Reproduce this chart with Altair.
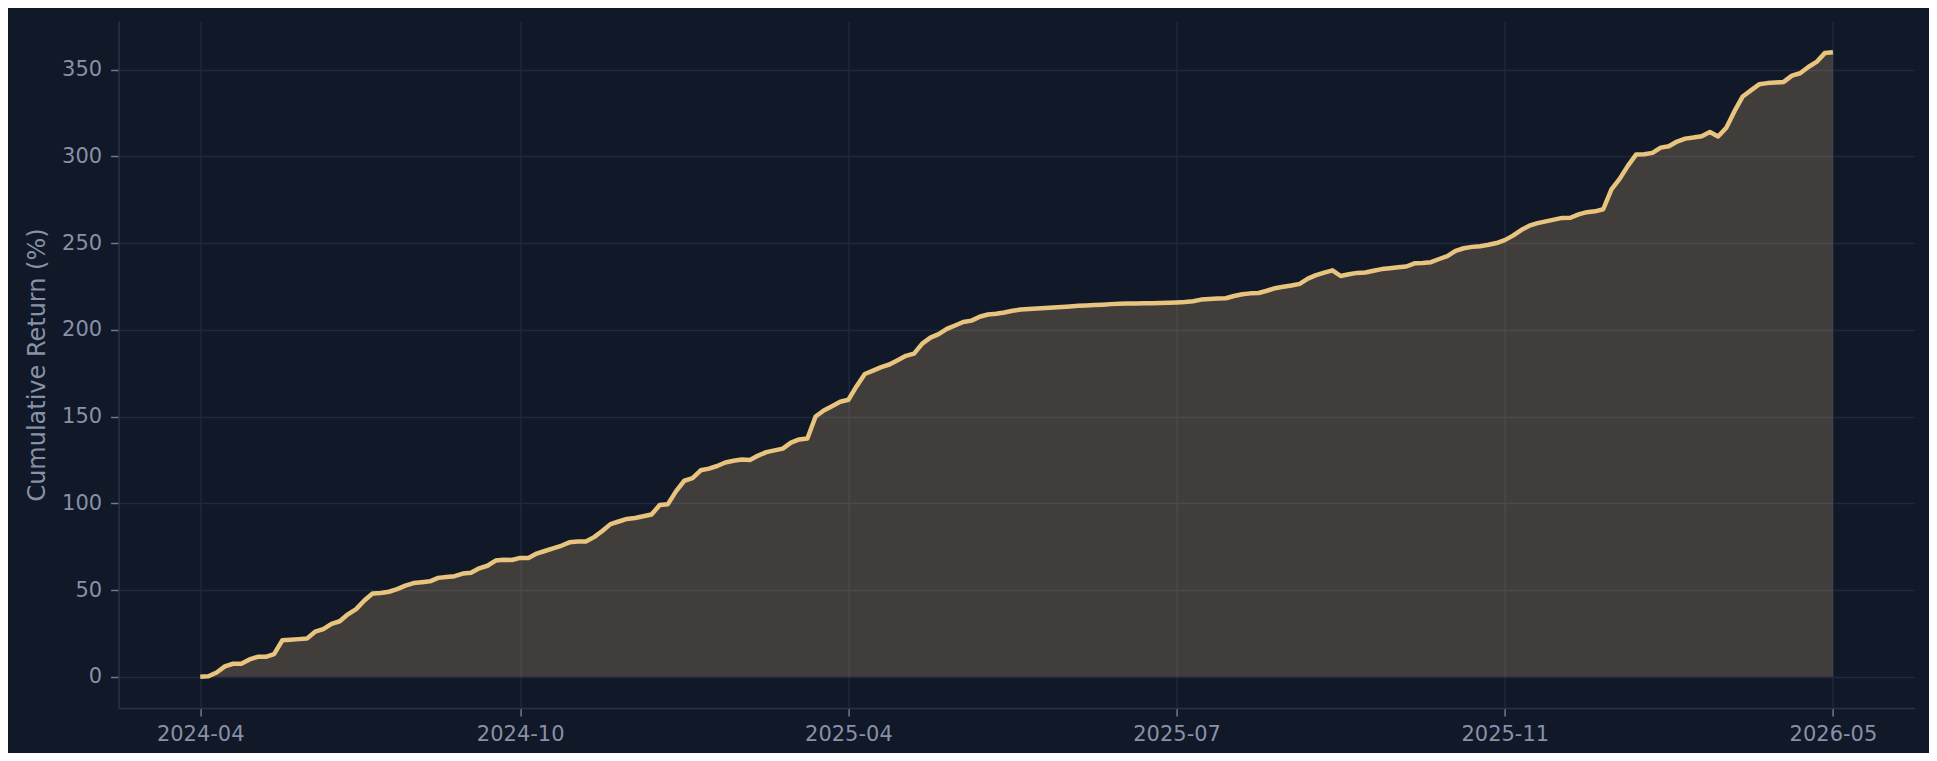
import altair as alt
import pandas as pd

# Cumulative return (%) per period
cum_return = [
    0, 0.3, 2.5, 6, 7.5, 7.5, 10, 11.5, 11.5, 13,
    21, 21.3, 21.7, 22, 26, 27.5, 30.5, 32, 36, 39,
    44, 48, 48.3, 49, 50.5, 52.5, 54, 54.5, 55, 57,
    57.5, 58, 59.5, 60, 62.5, 64, 67, 67.5, 67.3, 68.5,
    68.5, 71, 72.5, 74, 75.5, 77.5, 78, 78, 80.5, 84,
    88, 89.5, 91, 91.5, 92.5, 93.5, 99, 99.5, 107, 113,
    114.5, 119, 120, 121.5, 123.5, 124.5, 125.2, 125, 127.5, 129.5,
    130.5, 131.5, 135, 136.8, 137.3, 150, 153.5, 156, 158.5, 159.7,
    167.5, 174.5, 176.5, 178.5, 180, 182.5, 185, 186.3, 192, 195.5,
    197.5, 200.5, 202.5, 204.5, 205.3, 207.5, 208.8, 209.2, 210, 211,
    211.7, 212, 212.3, 212.6, 212.9, 213.2, 213.5, 213.8, 214, 214.3,
    214.5, 214.8, 215, 215.2, 215.2, 215.3, 215.3, 215.4, 215.6, 215.8,
    216, 216.5, 217.4, 217.7, 218, 218.2, 219.5, 220.5, 221, 221.2,
    222.5, 224, 224.8, 225.5, 226.5, 229.5, 231.5, 233, 234.3, 231,
    232, 232.8, 233, 234, 235, 235.5, 236, 236.5, 238.3, 238.5,
    239, 240.8, 242.5, 245.5, 247, 247.8, 248.2, 249, 250, 251.7,
    254.3, 257.5, 260, 261.5, 262.5, 263.5, 264.5, 264.6, 266.5, 267.8,
    268.3, 269.5, 281, 287, 294.5, 301, 301.2, 302, 305, 305.8,
    308.5, 310.2, 310.8, 311.6, 314, 311.4, 316.5, 326, 334.5, 338,
    341.5, 342.2, 342.5, 342.9, 346.5, 347.9, 351.5, 354.4, 359.5, 360,
]
tick_index = [0, 39, 79, 119, 159, 199]
tick_labels = ["2024-04", "2024-10", "2025-04", "2025-07", "2025-11", "2026-05"]
y_ticks = [0, 50, 100, 150, 200, 250, 300, 350]
y_domain = [-18, 378]

BG = "#111827"
GOLD = "#e8c47f"
GRID = "#1f2a42"
DOMAIN = "#27334d"
TEXT = "#8791a8"
FONT = "DejaVu Sans"

df = pd.DataFrame({"idx": list(range(len(cum_return))), "ret": cum_return})

label_expr = "".join(
    f"datum.value == {i} ? '{lab}' : " for i, lab in zip(tick_index, tick_labels)
) + "''"

n = len(cum_return) - 1
pad = n * 0.05

x = alt.X(
    "idx:Q",
    scale=alt.Scale(domain=[-pad, n + pad], nice=False, zero=False),
    axis=alt.Axis(values=tick_index, labelExpr=label_expr, title=None,
                  labelPadding=8),
)
y = alt.Y(
    "ret:Q",
    scale=alt.Scale(domain=y_domain, nice=False, zero=False),
    axis=alt.Axis(values=y_ticks, title="Cumulative Return (%)",
                  labelPadding=9, titlePadding=12),
)

area = alt.Chart(df).mark_area(color=GOLD, opacity=0.22).encode(
    x=x, y=y, y2=alt.datum(0)
)
line = alt.Chart(df).mark_line(color=GOLD, strokeWidth=4.5, strokeJoin="round").encode(
    x=x, y=y
)

chart = (
    alt.layer(area, line)
    .properties(
        width=1796,
        height=687,
        background=BG,
        padding={"left": 110.6, "top": 13, "right": 14, "bottom": 45},
        autosize=alt.AutoSizeParams(type="none"),
    )
    .configure_view(stroke="transparent", fill=BG)
    .configure_axis(
        grid=True,
        gridColor=GRID,
        gridWidth=1.3,
        domainColor=DOMAIN,
        domainWidth=1.5,
        tickColor="#6f7990",
        tickSize=8,
        tickWidth=1.5,
        labelColor=TEXT,
        labelFont=FONT,
        labelFontSize=21,
        titleColor=TEXT,
        titleFont=FONT,
        titleFontSize=24,
        titleFontWeight="normal",
    )
)

chart.save("out.html", embed_options={"renderer": "svg", "actions": False})
